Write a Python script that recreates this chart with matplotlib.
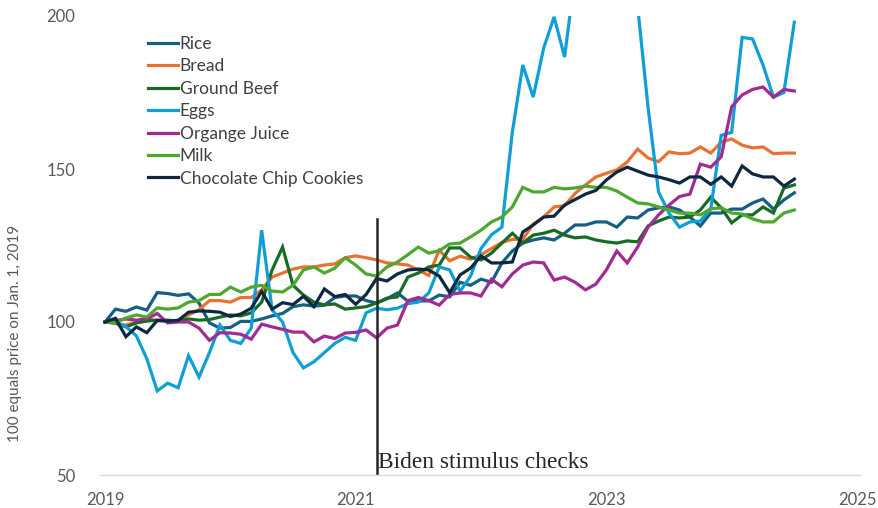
import numpy as np
import matplotlib
matplotlib.use("Agg")
import matplotlib.pyplot as plt

plt.rcParams['font.family'] = ['Lato', 'DejaVu Sans']

# monthly index values, Jan 2019 .. Jul 2024 (100 = Jan 2019)
rice = [100, 104.2, 103.5, 104.9, 103.9, 109.6, 109.3, 108.7, 109.2, 106.2, 99.7, 98,
        98.2, 100.2, 100.2, 101, 102, 102.8, 105, 105.6, 105.2, 105.5, 108, 108.5,
        108.5, 107, 106.2, 107.6, 109.5, 106.8, 106.9, 106.9, 108.8, 108.2, 113, 112,
        114, 113, 119.3, 123.2, 125.8, 126.8, 127.5, 126.8, 129, 131.7, 131.7, 132.7,
        132.7, 131, 134.3, 134, 136.6, 137.3, 137.6, 136.6, 134.3, 131.4, 135.6, 135.6,
        136.9, 136.9, 138.9, 140.2, 136.9, 139.9, 142.2]
bread = [100, 99.5, 99, 100, 101, 100.5, 100.3, 100.6, 102.3, 104, 107, 107,
         106.5, 108, 108, 110.5, 114.7, 116, 117.3, 118, 118, 118.6, 119, 121,
         121.6, 121, 120.3, 119.3, 119, 118.6, 117, 115.2, 123.5, 120, 121.5, 120.5,
         122, 124, 126, 127, 127, 132, 134.3, 137.6, 138, 142, 144.8, 147.4,
         148.6, 149.7, 152.3, 156.5, 153.6, 152.4, 155.6, 155, 155.2, 157.2, 155.2, 158.8,
         159.8, 157.8, 156.9, 157.2, 155, 155.2, 155.2]
beef = [100, 99.7, 98.4, 99.7, 100.3, 100.6, 100.6, 100.3, 101, 100.6, 100.8, 101.6,
        102.3, 102, 103, 106.5, 117, 124.5, 112, 108.8, 106.5, 105.6, 105.9, 104.2,
        104.6, 105, 106.2, 107.8, 108.2, 114.7, 116, 118, 118.6, 124.2, 124.2, 121.2,
        120.3, 122.5, 125.8, 129, 125.8, 128.4, 129, 130, 128.4, 127.5, 127.8, 126.8,
        126.2, 125.8, 126.5, 126.2, 131.4, 133, 134.3, 134, 134.3, 136.6, 140.8, 137.3,
        132.4, 135, 135, 137.6, 135.6, 143.8, 144.8]
eggs = [100, 100, 98.5, 95.5, 88, 77.5, 80, 78.5, 89, 82, 90, 99,
        94, 93, 98, 130, 104, 100, 90, 85, 87, 90, 93, 95,
        94, 103, 104.5, 104, 104.5, 106, 106.5, 109.5, 118, 117, 110, 115,
        124, 128.5, 131, 162, 184, 173.5, 189.5, 199.7, 186.6, 213, 240, 260,
        280, 250, 230, 203, 170, 142.5, 135.6, 131, 132.7, 133, 137, 161,
        162, 193, 192.5, 184, 173.5, 175, 198]
orange_juice = [100, 100.5, 101, 100.6, 101, 102.8, 99.7, 100, 100, 98, 94, 96.5,
                96.4, 96, 94.4, 99.3, 98.4, 97.6, 96.7, 96.7, 93.5, 95.4, 94.6, 96.4,
                96.6, 97.4, 94.8, 98, 99, 107, 108, 107, 105.5, 109, 109.5, 109.5,
                108.5, 114, 111.5, 115.7, 118.6, 119.6, 119.3, 113.7, 114.7, 113, 110.5, 112.4,
                117, 123.2, 119.3, 124.5, 131, 135, 138.2, 141, 141.8, 151.6, 150.6, 154,
                170.3, 174.2, 176, 176.8, 173.5, 176, 175.5]
milk = [100, 99.7, 101.3, 102.3, 101.6, 104.6, 104.2, 104.6, 106.5, 107, 109, 109,
        111.4, 109.8, 111.4, 112, 110.1, 109.8, 112, 117, 118, 116, 117.6, 121,
        118.6, 115.7, 115, 118, 119.6, 122, 124.5, 122.5, 123.3, 125.5, 125.8, 127.8,
        130, 132.7, 134.3, 137.6, 144, 142.5, 142.5, 144, 143.5, 143.8, 144.4, 144,
        144, 142.8, 140.8, 138.9, 138.6, 137.6, 136.6, 135.6, 135.6, 135, 137, 137.3,
        135.6, 135.3, 133.7, 132.7, 132.7, 135.6, 136.6]
cookies = [100, 101.2, 95.2, 98.4, 96.5, 100.5, 100.3, 100.5, 103.2, 103.6, 103.5, 103.2,
           101.8, 102.6, 104.5, 110, 104.2, 106.3, 105.7, 108.4, 105, 110.8, 108.3, 109,
           105.8, 109, 114.2, 113.4, 115.7, 117, 117.3, 117, 115, 109.6, 115.4, 117.6,
           121.6, 119.3, 119.3, 119.6, 129.4, 131.7, 134.3, 134.6, 138.2, 140, 141.8, 143,
           146.4, 149, 150.6, 149.3, 148, 147.4, 146.5, 145.4, 147.4, 147.4, 145, 147.4,
           144.4, 151, 148.4, 147.4, 147.4, 144.4, 146.7]

labels = ['Rice', 'Bread', 'Ground Beef', 'Eggs', 'Organge Juice', 'Milk',
          'Chocolate Chip Cookies']
colors = ['#156082', '#E97132', '#196B24', '#0F9ED5', '#A02B93', '#4EA72E', '#0E2841']
series = [rice, bread, beef, eggs, orange_juice, milk, cookies]

stimulus_date = 2019 + 26 / 12  # March 2021
stimulus_top = 133.5

months = 2019 + np.arange(len(rice)) / 12

fig = plt.figure(figsize=(8.79, 5.08), dpi=100)
ax = fig.add_axes([100 / 879, 1 - 475 / 508, 760 / 879, 459 / 508])

for vals, lab, col in zip(series, labels, colors):
    ax.plot(months, vals, color=col, lw=2.3, label=lab, solid_joinstyle='miter')

ax.plot([stimulus_date, stimulus_date], [50, stimulus_top], color='#262626', lw=1.8)
ax.text(stimulus_date + 0.01, 50.5, 'Biden stimulus checks', family='Liberation Serif',
        fontsize=16.8, color='#262626', ha='left', va='bottom')

ax.set_xlim(2018.96, 2025.024)
ax.set_ylim(50, 200)
ax.set_xticks([2019, 2021, 2023, 2025])
ax.set_yticks([50, 100, 150, 200])
ax.tick_params(length=0, labelsize=12, labelcolor='#595959')
ax.tick_params(axis='y', pad=18)
ax.tick_params(axis='x', pad=12)
for s in ['top', 'right', 'left']:
    ax.spines[s].set_visible(False)
ax.spines['bottom'].set_color('#d9d9d9')
ax.spines['bottom'].set_linewidth(1)

fig.text(15 / 879, 1 - 333 / 508, '100 equals price on Jan. 1, 2019', rotation=90,
         ha='center', va='center', fontsize=11, color='#595959')

ax.legend(loc='upper left', bbox_to_anchor=(148 / 879, 1 - 36 / 508),
          bbox_transform=fig.transFigure, frameon=False, fontsize=12.5,
          handlelength=1.7, handletextpad=0.12, labelspacing=0.37,
          borderpad=0, borderaxespad=0, labelcolor='#404040')

fig.savefig('out.png', dpi=100)
